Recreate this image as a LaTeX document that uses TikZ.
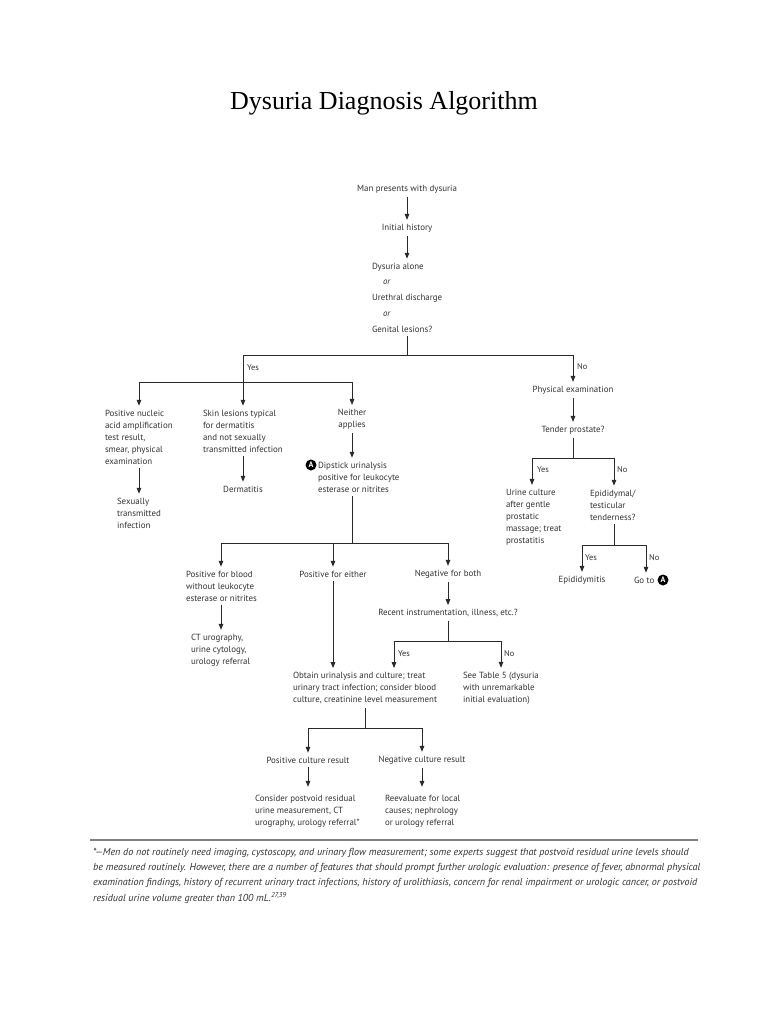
\documentclass[tikz,border=0pt]{standalone}
\usepackage{fontspec}
\setmainfont{PT Sans}
\newfontfamily\titlefont{Liberation Serif}
\usetikzlibrary{arrows.meta}
\definecolor{txtc}{HTML}{333333}
\definecolor{linec}{HTML}{2a2a2a}
\begin{document}
\begin{tikzpicture}[x=1pt,y=-1pt,
 txt/.style={font=\fontsize{8.9}{12}\selectfont, inner sep=0pt, outer sep=0pt, text=txtc, align=left},
 ctxt/.style={txt, align=center},
 lbl/.style={font=\fontsize{8.4}{10}\selectfont, inner sep=0pt, text=txtc, anchor=west},
 fn/.style={font=\fontsize{10.1}{11}\selectfont\itshape, inner sep=0pt, text=txtc, anchor=west},
 ln/.style={draw=linec, line width=1pt},
 arr/.style={ln, -{Triangle[length=6pt,width=4.5pt]}, shorten >=4pt},
 src/.style={shorten <=4pt},
 circA/.style={circle, fill=black, text=white, inner sep=0pt, minimum size=11pt, font=\fontsize{8}{8}\selectfont\bfseries}
]
\useasboundingbox (0,0) rectangle (768,1024);
\fill[white] (0,0) rectangle (768,1024);

\node[font=\titlefont\fontsize{26}{30}\selectfont, text=black] (title) at (384,103) {Dysuria Diagnosis Algorithm};

% top
\node[ctxt] (man) at (407,189) {Man presents with dysuria};
\node[ctxt] (init) at (407,228) {Initial history};
\draw[arr,src] (man) -- (init);
\node[txt, anchor=west, font=\fontsize{8.9}{15.75}\selectfont] (q) at (372,297.5) {Dysuria alone\\\hspace*{11pt}\textit{or}\\Urethral discharge\\\hspace*{11pt}\textit{or}\\Genital lesions?};
\draw[arr,src] (init) -- (init.south |- q.north);

\coordinate (j0) at (407,355);
\coordinate (jY) at (243,355);
\coordinate (jN) at (573,355);
\draw[ln,src] (q.south -| j0) -- (j0);
\draw[ln] (jY) -- (jN);
\node[lbl] (yes1) at (247,368) {Yes};
\node[lbl] (no1) at (577,367) {No};

% yes branch
\coordinate (jL) at (139,382);
\coordinate (jR) at (352,382);
\draw[ln] (jL) -- (jR);
\node[txt, anchor=west] (pna) at (105,437) {Positive nucleic\\acid amplification\\test result,\\smear, physical\\examination};
\node[txt, anchor=west] (skin) at (203,431) {Skin lesions typical\\for dermatitis\\and not sexually\\transmitted infection};
\node[ctxt] (neither) at (352,419) {Neither\\applies};
\draw[arr] (jL) -- (jL |- pna.north);
\draw[arr] (jY) -- (jY |- skin.north);
\draw[arr] (jR) -- (neither);
\node[txt, anchor=west] (sti) at (117,513) {Sexually\\transmitted\\infection};
\draw[arr,src] (pna.south -| jL) -- (jL |- sti.north);
\node[ctxt] (derm) at (243,489) {Dermatitis};
\draw[arr,src] (skin.south -| jY) -- (derm);
\node[circA] (A1) at (311,465) {A};
\node[txt, anchor=west] (dip) at (318,477) {Dipstick urinalysis\\positive for leukocyte\\esterase or nitrites};
\draw[arr,src] (neither.south) -- (neither.south |- dip.north);

\coordinate (jD) at (352,543);
\coordinate (jB) at (221,543);
\coordinate (jNB) at (448,543);
\coordinate (jE) at (333,543);
\draw[ln,src] (dip.south -| jD) -- (jD);
\draw[ln] (jB) -- (jNB);
\node[txt, anchor=west] (blood) at (186,586) {Positive for blood\\without leukocyte\\esterase or nitrites};
\node[ctxt] (either) at (333,574) {Positive for either};
\node[ctxt] (negb) at (448,574) {Negative for both};
\draw[arr] (jB) -- (jB |- blood.north);
\draw[arr] (jE) -- (either);
\draw[arr] (jNB) -- (negb);
\node[txt, anchor=west] (ct) at (191,650) {CT urography,\\urine cytology,\\urology referral};
\draw[arr,src] (blood.south -| jB) -- (jB |- ct.north);
\node[ctxt] (recent) at (448,613) {Recent instrumentation, illness, etc.?};
\draw[arr,src] (negb) -- (recent);
\coordinate (jR2) at (448,641);
\coordinate (jRY) at (394,641);
\coordinate (jRN) at (501,641);
\draw[ln,src] (recent) -- (jR2);
\draw[ln] (jRY) -- (jRN);
\node[lbl] (yes3) at (398,654) {Yes};
\node[lbl] (no3) at (504,654) {No};
\node[txt, anchor=west] (obtain) at (293,688) {Obtain urinalysis and culture; treat\\urinary tract infection; consider blood\\culture, creatinine level measurement};
\node[txt, anchor=west] (tab5) at (463,688) {See Table 5 (dysuria\\with unremarkable\\initial evaluation)};
\draw[arr] (jRY) -- (jRY |- obtain.north);
\draw[arr] (jRN) -- (jRN |- tab5.north);
\draw[arr,src] (either) -- (either.south |- obtain.north);

\coordinate (jO) at (365,728);
\coordinate (jP) at (308,728);
\coordinate (jQ) at (422,728);
\draw[ln,src] (obtain.south -| jO) -- (jO);
\draw[ln] (jP) -- (jQ);
\node[ctxt] (posc) at (308,760) {Positive culture result};
\node[ctxt] (negc) at (422,760) {Negative culture result};
\draw[arr] (jP) -- (posc);
\draw[arr] (jQ) -- (negc);
\node[txt, anchor=west] (cons) at (255,811) {Consider postvoid residual\\urine measurement, CT\\urography, urology referral*};
\node[txt, anchor=west] (reev) at (385,811) {Reevaluate for local\\causes; nephrology\\or urology referral};
\draw[arr,src,shorten >=8pt] (posc) -- (posc.south |- cons.north);
\draw[arr,src,shorten >=8pt] (negc) -- (negc.south |- reev.north);

% no branch
\node[ctxt] (phys) at (573,390) {Physical examination};
\draw[arr] (jN) -- (phys);
\node[ctxt] (tender) at (573,430) {Tender prostate?};
\draw[arr,src] (phys) -- (tender);
\coordinate (jT) at (573,458);
\coordinate (jTY) at (532,458);
\coordinate (jTN) at (614,458);
\draw[ln,src] (tender) -- (jT);
\draw[ln] (jTY) -- (jTN);
\node[lbl] (yes2) at (537,470) {Yes};
\node[lbl] (no2) at (617,470) {No};
\node[txt, anchor=west] (urine) at (506,517) {Urine culture\\after gentle\\prostatic\\massage; treat\\prostatitis};
\node[txt, anchor=west] (epid) at (590,505) {Epididymal/\\testicular\\tenderness?};
\draw[arr] (jTY) -- (jTY |- urine.north);
\draw[arr] (jTN) -- (jTN |- epid.north);
\coordinate (jEp) at (614,545);
\coordinate (jEY) at (582,545);
\coordinate (jEN) at (646,545);
\draw[ln,src] (epid.south -| jEp) -- (jEp);
\draw[ln] (jEY) -- (jEN);
\node[lbl] (yes4) at (585,558) {Yes};
\node[lbl] (no4) at (649,558) {No};
\node[ctxt] (epi) at (582,580) {Epididymitis};
\node[txt, anchor=west] (goto) at (634,580) {Go to};
\node[circA] (A2) at (663,580) {A};
\draw[arr] (jEY) -- (epi);
\draw[arr] (jEN) -- (jEN |- goto.north);

% footnote
\coordinate (r1) at (90,840);
\coordinate (r2) at (698,840);
\draw[draw=gray, line width=1.2pt] (r1) -- (r2);
\node[fn] (fn1) at (93,853) {*---Men do not routinely need imaging, cystoscopy, and urinary flow measurement; some experts suggest that postvoid residual urine levels should};
\node[fn] (fn2) at (93,868) {be measured routinely. However, there are a number of features that should prompt further urologic evaluation: presence of fever, abnormal physical};
\node[fn] (fn3) at (93,883) {examination findings, history of recurrent urinary tract infections, history of urolithiasis, concern for renal impairment or urologic cancer, or postvoid};
\node[fn] (fn4) at (93,898) {residual urine volume greater than 100 mL.\textsuperscript{27,39}};
\end{tikzpicture}
\end{document}
